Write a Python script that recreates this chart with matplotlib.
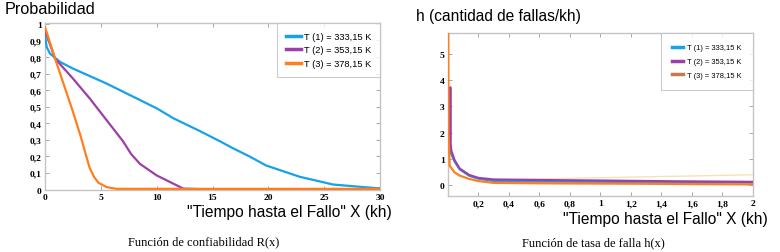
import matplotlib
matplotlib.use("Agg")
import matplotlib.pyplot as plt
from matplotlib.font_manager import FontProperties

# ---- data: reliability R(x) ----
r1_x = [0, 0.15, 0.45, 1.35, 2.5, 5.5, 8.5, 10.0, 11.5, 13.8, 15.7, 16.8, 18.3, 19.8, 22.8, 25.8, 29.7, 30.0]
r1_y = [0.93, 0.86, 0.82, 0.77, 0.73, 0.64, 0.54, 0.49, 0.43, 0.355, 0.29, 0.25, 0.20, 0.145, 0.077, 0.03, 0.008, 0.008]
r2_x = [0, 0.9, 2.5, 4.0, 5.5, 7.0, 7.7, 8.5, 10.0, 11.5, 12.4, 14.0, 20.0, 30.0]
r2_y = [0.96, 0.79, 0.67, 0.55, 0.42, 0.29, 0.215, 0.155, 0.085, 0.035, 0.005, 0.002, 0.0, 0.0]
r3_x = [0, 0.9, 1.8, 2.5, 3.2, 3.7, 4.0, 4.4, 4.8, 5.5, 6.4, 10.0, 20.0, 30.0]
r3_y = [0.98, 0.79, 0.61, 0.47, 0.32, 0.20, 0.13, 0.075, 0.04, 0.015, 0.004, 0.004, 0.004, 0.004]

# ---- data: hazard h(x) ----
h1_x = [0.004, 0.006, 0.01, 0.02, 0.043, 0.076, 0.14, 0.2, 0.3, 0.6, 1.0, 1.5, 2.0]
h1_y = [3.35, 1.8, 1.45, 1.2, 0.9, 0.6, 0.35, 0.24, 0.15, 0.13, 0.12, 0.10, 0.09]
h2_x = [0.004, 0.013, 0.015, 0.017, 0.022, 0.043, 0.076, 0.14, 0.2, 0.3, 0.6, 1.0, 1.5, 2.0]
h2_y = [2.0, 1.7, 3.73, 1.6, 1.3, 0.95, 0.63, 0.38, 0.27, 0.21, 0.19, 0.17, 0.14, 0.12]
h3_x = [0.002, 0.003, 0.011, 0.043, 0.076, 0.14, 0.2, 0.3, 0.7, 1.2, 2.0]
h3_y = [5.8, 2.0, 0.74, 0.48, 0.36, 0.23, 0.15, 0.08, 0.06, 0.05, 0.02]
h4_x = [0.3, 2.0]
h4_y = [0.2, 0.39]

labels = ["T (1) = 333,15 K", "T (2) = 353,15 K", "T (3) = 378,15 K"]
colors = ["#17a2e6", "#9c3fa8", "#ff7f1e"]
legend_colors_h = ["#17a2e6", "#9c3fa8", "#c8784a"]

r_yticks = [0, 0.1, 0.2, 0.3, 0.4, 0.5, 0.6, 0.7, 0.8, 0.9, 1.0]
r_xticks = [0, 5, 10, 15, 20, 25, 30]
h_xticks = [0.2, 0.4, 0.6, 0.8, 1.0, 1.2, 1.4, 1.6, 1.8, 2.0]
h_yticks = [0, 1, 2, 3, 4, 5]


def fmt(v):
    return ("%g" % v).replace(".", ",")


fig = plt.figure(figsize=(7.8, 2.53), dpi=100)
W, H = 780, 253


def add_ax(l, t, r, b):
    return fig.add_axes([l / W, 1 - b / H, (r - l) / W, (b - t) / H])


tickfp = FontProperties(family="Liberation Serif", weight="bold", size=6.8)
sans = "Liberation Sans"


def style(ax):
    for s in ax.spines.values():
        s.set_color("#c4c4c4")
        s.set_linewidth(1.0)
    ax.tick_params(direction="in", top=True, right=True, length=3, width=0.6,
                   color="#999999", pad=2.5)
    for lbl in ax.get_xticklabels() + ax.get_yticklabels():
        lbl.set_fontproperties(tickfp)


# ---- left chart ----
ax1 = add_ax(45, 24, 380, 191)
for x, y, c, lab in zip([r1_x, r2_x, r3_x], [r1_y, r2_y, r3_y], colors, labels):
    ax1.plot(x, y, color=c, lw=1.6, label=lab, zorder=3)
ax1.set_xlim(0, 30)
ax1.set_ylim(-0.003, 1.005)
ax1.set_xticks(r_xticks)
ax1.set_xticklabels([fmt(v) for v in r_xticks])
ax1.set_yticks(r_yticks)
ax1.set_yticklabels([fmt(v) for v in r_yticks])
style(ax1)
leg1 = ax1.legend(loc="upper right", bbox_to_anchor=(1.0, 1.0), prop=dict(family=sans, size=6.7),
                  frameon=True, fancybox=False, edgecolor="#c0c0c0", borderpad=0.95,
                  labelspacing=0.5, handlelength=1.6, handletextpad=0.35, borderaxespad=0.0)
leg1.get_frame().set_linewidth(0.8)
leg1.set_zorder(5)
for l in leg1.get_lines():
    l.set_linewidth(2.5)

fig.text(5 / W, 1 - 10 / H, "Probabilidad", family=sans, size=11.7, va="center", ha="left")
fig.text(392 / W, 1 - 212 / H, "\"Tiempo hasta el Fallo\" X (kh)", family=sans, size=11.2,
         va="center", ha="right")
fig.text(204 / W, 1 - 242 / H, "Función de confiabilidad R(x)", family="Liberation Serif",
         size=9.0, va="center", ha="center")

# ---- right chart ----
ax2 = add_ax(448, 34, 753, 197)
ax2.plot(h4_x, h4_y, color="#f3e4b5", lw=1.0, zorder=3)
for x, y, c, lab in zip([h1_x, h2_x, h3_x], [h1_y, h2_y, h3_y], colors, labels):
    ax2.plot(x, y, color=c, lw=1.6, label=lab, zorder=3)
ax2.set_xlim(0, 2)
ax2.set_ylim(-0.42, 5.8)
ax2.set_xticks(h_xticks)
ax2.set_xticklabels([fmt(v) for v in h_xticks])
ax2.set_yticks(h_yticks)
ax2.set_yticklabels([fmt(v) for v in h_yticks])
style(ax2)
leg2 = ax2.legend(loc="upper right", bbox_to_anchor=(1.0, 1.0), prop=dict(family=sans, size=5.4),
                  frameon=True, fancybox=False, edgecolor="#c0c0c0", borderpad=1.5,
                  labelspacing=0.85, handlelength=1.5, handletextpad=0.5, borderaxespad=0.0)
leg2.get_frame().set_linewidth(0.8)
leg2.set_zorder(5)
for l, c in zip(leg2.get_lines(), legend_colors_h):
    l.set_linewidth(2.5)
    l.set_color(c)

fig.text(416 / W, 1 - 17 / H, "h (cantidad de fallas/kh)", family=sans, size=11.2,
         va="center", ha="left")
fig.text(768 / W, 1 - 220 / H, "\"Tiempo hasta el Fallo\" X (kh)", family=sans, size=11.2,
         va="center", ha="right")
fig.text(593 / W, 1 - 243 / H, "Función de tasa de falla h(x)", family="Liberation Serif",
         size=9.0, va="center", ha="center")

fig.savefig("out.png", dpi=100)
